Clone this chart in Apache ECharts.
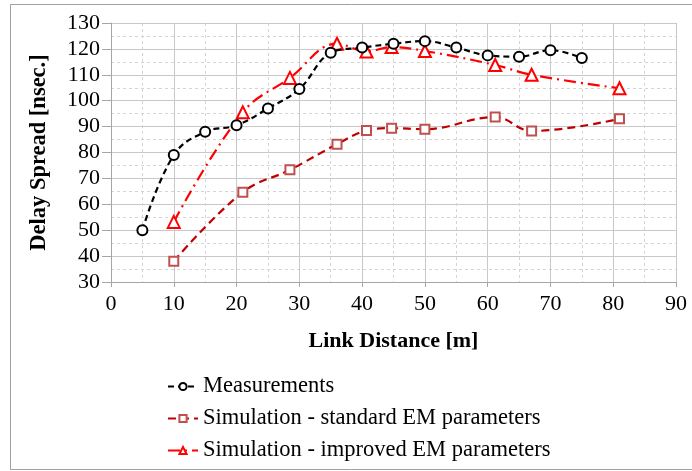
<!DOCTYPE html>
<html>
<head>
<meta charset="utf-8">
<script src="https://cdn.jsdelivr.net/npm/echarts@6/dist/echarts.min.js"></script>
<style>
  html, body { margin: 0; padding: 0; background: #fff; }
  #chart { width: 692px; height: 471px; }
</style>
</head>
<body>
<div id="chart"></div>
<script>
// Link distance [m] and delay spread [nsec.] per series
const measX = [5, 10, 15, 20, 25, 30, 35, 40, 45, 50, 55, 60, 65, 70, 75];
const measY = [50, 79, 88, 90.5, 97, 104.5, 118.5, 120.5, 122, 123, 120.5, 117.5, 117, 119.5, 116.5];

const simX = [10, 21, 28.5, 36, 40.7, 44.7, 50, 61.2, 67, 81];
const stdY = [38, 64.7, 73.3, 83.2, 88.5, 89.4, 89, 93.7, 88.3, 93];
const impY = [53.2, 95.5, 108.8, 122, 119, 120.7, 119.2, 113.8, 110, 104.8];

const seriesNames = [
  'Measurements',
  'Simulation - standard EM parameters',
  'Simulation - improved EM parameters'
];

const xTicks = { min: 0, max: 90, interval: 10 };
const yTicks = { min: 30, max: 130, interval: 10 };

const pairs = (xs, ys) => xs.map((x, i) => [x, ys[i]]);
const serif = '"Liberation Serif", "Times New Roman", serif';

const chart = echarts.init(document.getElementById('chart'));
chart.setOption({
  animation: false,
  backgroundColor: '#fff',
  graphic: [{
    type: 'rect',
    shape: { x: 10.5, y: 4.5, width: 700, height: 465 },
    style: { fill: 'none', stroke: '#a0a0a0', lineWidth: 1 },
    silent: true,
    z: -1
  }],
  grid: { left: 111, right: 16, top: 23, bottom: 189 },
  xAxis: {
    type: 'value',
    min: xTicks.min, max: xTicks.max, interval: xTicks.interval,
    name: 'Link Distance [m]',
    nameLocation: 'middle',
    nameGap: 48,
    nameTextStyle: { fontFamily: serif, fontWeight: 'bold', fontSize: 22, color: '#000' },
    axisLine: { show: true, lineStyle: { color: '#a6a6a6', width: 1 } },
    axisTick: { show: true, length: 5, lineStyle: { color: '#a6a6a6' } },
    axisLabel: { fontFamily: serif, fontSize: 22, color: '#000', margin: 11 },
    splitLine: { show: true, lineStyle: { color: '#c8c8c8', width: 1 } },
    minorTick: { show: false, splitNumber: 2 },
    minorSplitLine: { show: true, lineStyle: { color: '#d4d4d4', type: [3, 3], width: 1 } }
  },
  yAxis: {
    type: 'value',
    min: yTicks.min, max: yTicks.max, interval: yTicks.interval,
    name: 'Delay Spread [nsec.]',
    nameLocation: 'middle',
    nameGap: 60,
    nameRotate: 90,
    nameTextStyle: { fontFamily: serif, fontWeight: 'bold', fontSize: 22.5, color: '#000' },
    axisLine: { show: true, lineStyle: { color: '#a6a6a6', width: 1 } },
    axisTick: { show: true, length: 9, lineStyle: { color: '#a6a6a6' } },
    axisLabel: { fontFamily: serif, fontSize: 22, color: '#000', margin: 11 },
    splitLine: { show: true, lineStyle: { color: '#c8c8c8', width: 1 } },
    minorTick: { show: false, splitNumber: 2 },
    minorSplitLine: { show: true, lineStyle: { color: '#d4d4d4', type: [3, 3], width: 1 } }
  },
  legend: {
    orient: 'vertical',
    left: 162,
    top: 370,
    itemWidth: 30,
    itemHeight: 9,
    itemGap: 9,
    textStyle: { fontFamily: serif, fontSize: 22.5, color: '#000', lineHeight: 22 },
    data: seriesNames
  },
  series: [
    {
      name: seriesNames[0],
      type: 'line',
      data: pairs(measX, measY),
      smooth: 0.4,
      symbol: 'circle',
      symbolSize: 10,
      itemStyle: { color: '#fff', borderColor: '#000', borderWidth: 2 },
      lineStyle: { color: '#000', width: 2.2, type: [6, 4] },
      z: 3
    },
    {
      name: seriesNames[1],
      type: 'line',
      data: pairs(simX, stdY),
      smooth: 0.4,
      symbol: 'rect',
      symbolSize: 9,
      itemStyle: { color: '#fff', borderColor: '#c0504d', borderWidth: 2 },
      lineStyle: { color: '#c00000', width: 2.2, type: [8, 5] },
      z: 2
    },
    {
      name: seriesNames[2],
      type: 'line',
      data: pairs(simX, impY),
      smooth: 0.4,
      symbol: 'triangle',
      symbolSize: 12,
      itemStyle: { color: '#fff', borderColor: '#ff0000', borderWidth: 2 },
      lineStyle: { color: '#ff0000', width: 2.2, type: [12, 5, 2, 5] },
      z: 2
    }
  ]
});
</script>
</body>
</html>
